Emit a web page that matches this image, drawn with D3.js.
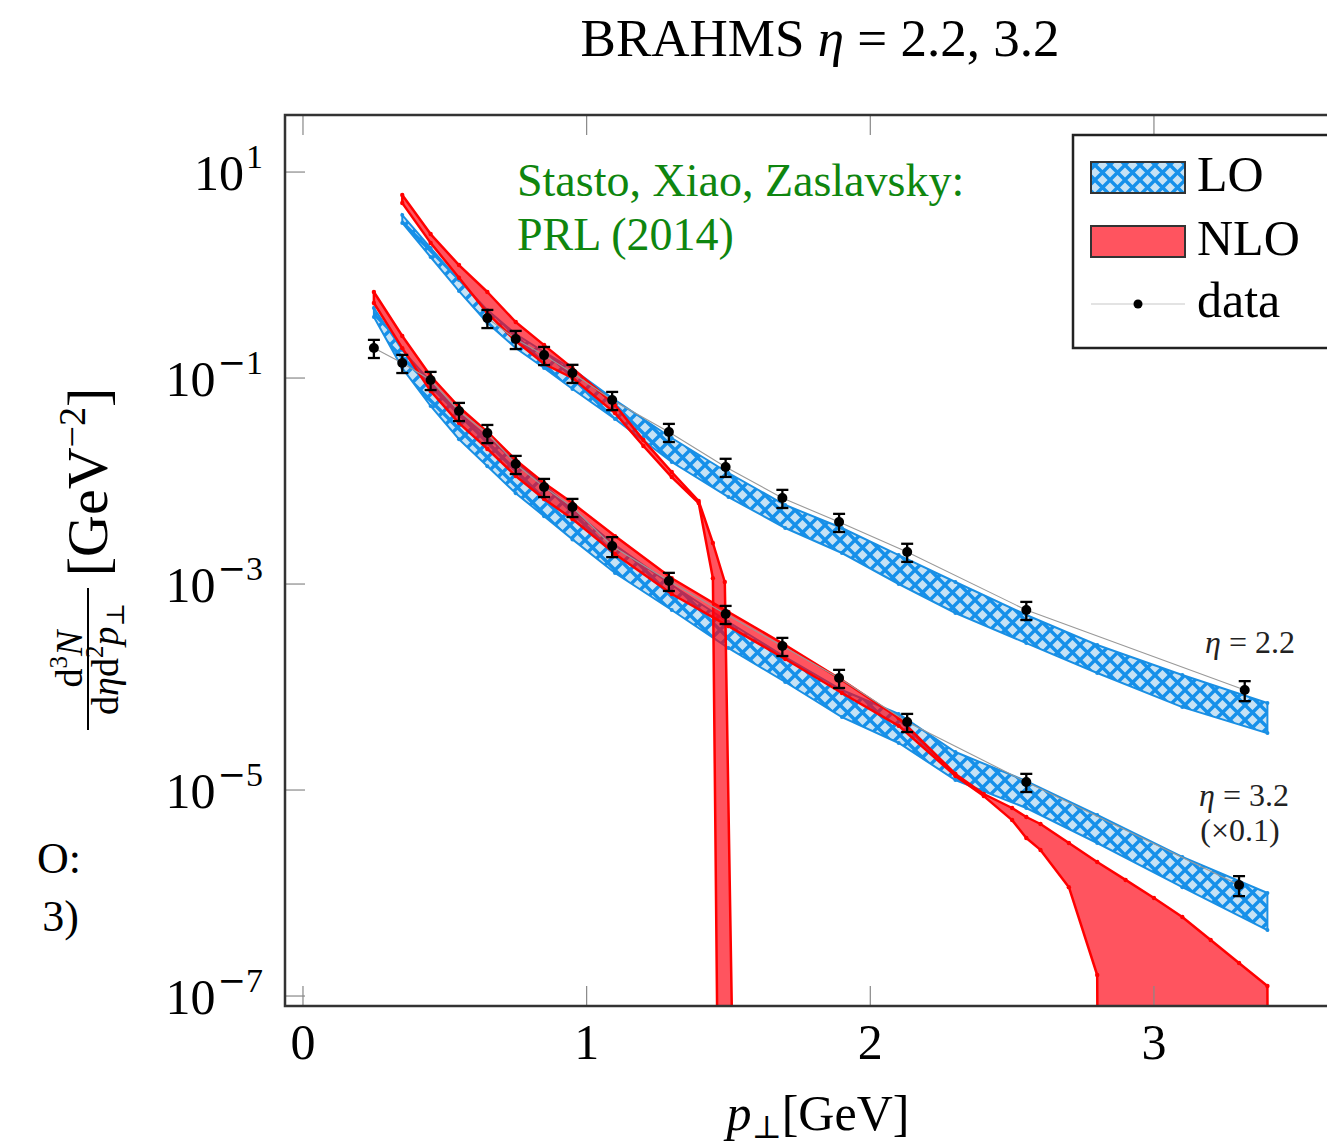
<!DOCTYPE html>
<html>
<head>
<meta charset="utf-8">
<script src="https://cdn.jsdelivr.net/npm/d3@7"></script>
<style>
body { margin: 0; background: #fff; }
text { font-family: "Liberation Serif", "DejaVu Serif", serif; }
</style>
</head>
<body>
<div id="chart"></div>
<script>
const W = 1327, H = 1145
const plot = {left: 285, right: 1344, top: 115, bottom: 1006}

// axis
const xMin = -0.0634, xMax = 3.67
const yMin = 8.0e-8, yMax = 35.8
const xTicks = [0, 1, 2, 3]
const yTickExp = [1, -1, -3, -5, -7]

// BRAHMS data, eta = 2.2
const xData22 = [0.65, 0.75, 0.85, 0.95, 1.09, 1.29, 1.49, 1.69, 1.89, 2.13, 2.55, 3.32]
const yData22 = [0.382, 0.239, 0.167, 0.112, 0.0611, 0.0299, 0.0137, 0.00684, 0.0040, 0.00205, 0.000559, 0.0000935]
const err22 = [0.2, 0.2, 0.2, 0.2, 0.2, 0.2, 0.2, 0.2, 0.2, 0.2, 0.2, 0.22]

// BRAHMS data, eta = 3.2 (x0.1)
const xData32 = [0.25, 0.35, 0.45, 0.55, 0.65, 0.75, 0.85, 0.95, 1.09, 1.29, 1.49, 1.69, 1.89, 2.13, 2.55, 3.30]
const yData32 = [0.1956, 0.1398, 0.0956, 0.0478, 0.0292, 0.01462, 0.00874, 0.00559, 0.00234, 0.00107, 0.000511, 0.000250, 0.0001223, 0.0000457, 0.00001196, 0.000001196]
const err32 = [0.2, 0.2, 0.2, 0.2, 0.2, 0.2, 0.2, 0.2, 0.22, 0.2, 0.2, 0.2, 0.2, 0.2, 0.2, 0.22]

// LO band, eta = 2.2
const xLO22 = [0.35, 0.45, 0.55, 0.65, 0.75, 0.85, 0.95, 1.1, 1.3, 1.5, 1.7, 1.9, 2.1, 2.3, 2.55, 2.8, 3.1, 3.4]
const loHi22 = [3.82, 1.83, 0.894, 0.457, 0.2675, 0.1788, 0.1223, 0.0611, 0.0262, 0.01196, 0.00585, 0.00350, 0.00191, 0.001046, 0.000500, 0.000256, 0.0001308, 0.0000699]
const loLo22 = [3.20, 1.496, 0.699, 0.342, 0.1956, 0.1251, 0.0782, 0.0400, 0.01530, 0.00699, 0.00350, 0.00200, 0.00100, 0.000523, 0.000267, 0.0001367, 0.0000639, 0.0000357]

// LO band, eta = 3.2
const xLO32 = [0.25, 0.35, 0.45, 0.55, 0.65, 0.75, 0.85, 0.95, 1.1, 1.3, 1.5, 1.7, 1.9, 2.1, 2.3, 2.55, 2.8, 3.1, 3.4]
const loHi32 = [0.478, 0.187, 0.0915, 0.0457, 0.0267, 0.0153, 0.00915, 0.00523, 0.00239, 0.000978, 0.000428, 0.0001956, 0.0000935, 0.0000547, 0.0000234, 0.0000122, 5.72e-6, 2.24e-6, 1.0e-6]
const loLo32 = [0.391, 0.1250, 0.0535, 0.0255, 0.0139, 0.00762, 0.00456, 0.00271, 0.00128, 0.000560, 0.000239, 0.0001118, 0.0000511, 0.0000286, 0.0000125, 6.69e-6, 3.06e-6, 1.14e-6, 4.37e-7]

// NLO band, eta = 2.2 (upper and lower edges)
const xNloHi22 = [0.35, 0.45, 0.55, 0.65, 0.75, 0.85, 0.95, 1.1, 1.2, 1.3, 1.395, 1.445, 1.487, 1.517]
const nloHi22 = [5.98, 2.50, 1.25, 0.684, 0.350, 0.209, 0.1250, 0.0547, 0.0250, 0.01224, 0.00639, 0.00250, 0.001046, 1e-8]
const xNloLo22 = [0.35, 0.45, 0.55, 0.65, 0.75, 0.85, 0.95, 1.1, 1.2, 1.3, 1.395, 1.445, 1.463]
const nloLo22 = [5.00, 2.05, 0.940, 0.427, 0.229, 0.1375, 0.100, 0.0457, 0.0219, 0.01093, 0.00611, 0.00114, 1e-8]

// NLO band, eta = 3.2
const xNloHi32 = [0.25, 0.35, 0.45, 0.55, 0.65, 0.75, 0.85, 0.95, 1.1, 1.3, 1.5, 1.7, 1.9, 2.1, 2.3, 2.4, 2.5, 2.55, 2.6, 2.7, 2.8, 2.9, 3.0, 3.1, 3.2, 3.3, 3.4, 3.402]
const nloHi32 = [0.684, 0.256, 0.1046, 0.0523, 0.0299, 0.0160, 0.00956, 0.00611, 0.00292, 0.00114, 0.000535, 0.000256, 0.0001169, 0.0000500, 0.0000143, 9.15e-6, 6.69e-6, 5.47e-6, 4.68e-6, 3.06e-6, 2.00e-6, 1.34e-6, 8.94e-7, 5.85e-7, 3.50e-7, 2.09e-7, 1.25e-7, 1e-8]
const xNloLo32 = [0.25, 0.35, 0.45, 0.55, 0.65, 0.75, 0.85, 0.95, 1.1, 1.3, 1.5, 1.7, 1.9, 2.1, 2.3, 2.4, 2.5, 2.55, 2.6, 2.7, 2.8, 2.802]
const nloLo32 = [0.535, 0.195, 0.0748, 0.0365, 0.0205, 0.0112, 0.00670, 0.00428, 0.00196, 0.000800, 0.000390, 0.000187, 0.0000875, 0.0000420, 0.0000137, 8.74e-6, 5.11e-6, 3.42e-6, 2.62e-6, 1.14e-6, 1.60e-7, 1e-8]

const blue = "#1a8fe3", red = "#ff0000", green = "#0f860f"

const xScale = d3.scaleLinear().domain([xMin, xMax]).range([plot.left, plot.right])
const yScale = d3.scaleLog().domain([yMin, yMax]).range([plot.bottom, plot.top])

const svg = d3.select("#chart").append("svg")
    .attr("xmlns", "http://www.w3.org/2000/svg")
    .attr("width", W)
    .attr("height", H)

const defs = svg.append("defs")
defs.append("clipPath").attr("id", "plotClip")
    .append("rect")
    .attr("x", plot.left).attr("y", plot.top)
    .attr("width", plot.right - plot.left).attr("height", plot.bottom - plot.top)

const pat = defs.append("pattern").attr("id", "crosshatch")
    .attr("patternUnits", "userSpaceOnUse")
    .attr("width", 15).attr("height", 15)
pat.append("rect").attr("width", 15).attr("height", 15).attr("fill", "#c6e2f5")
pat.append("path").attr("d", "M0,0L15,15M15,0L0,15")
    .attr("stroke", "#1590ea").attr("stroke-width", 3.4).attr("stroke-linecap", "square")

// title
svg.append("text")
    .attr("x", 820).attr("y", 56)
    .attr("text-anchor", "middle")
    .attr("font-size", 53)
    .call(t => {
        t.append("tspan").text("BRAHMS ")
        t.append("tspan").attr("font-style", "italic").text("η")
        t.append("tspan").text(" = 2.2, 3.2")
    })

const g = svg.append("g").attr("clip-path", "url(#plotClip)")

function bandPath(hx, hv, lx, lv) {
    const top = hx.map((x, i) => [xScale(x), yScale(hv[i])])
    const bot = lx.map((x, i) => [xScale(x), yScale(lv[i])]).reverse()
    return "M" + top.concat(bot).map(p => p[0].toFixed(1) + "," + p[1].toFixed(1)).join("L") + "Z"
}

function drawVertices(xs, vs, color, r) {
    g.append("g").selectAll("circle")
        .data(xs.map((x, i) => [x, vs[i]]).filter(d => d[1] > yMin))
        .enter().append("circle")
        .attr("cx", d => xScale(d[0]))
        .attr("cy", d => yScale(d[1]))
        .attr("r", r)
        .attr("fill", color)
}

// LO bands
g.append("path").attr("d", bandPath(xLO22, loHi22, xLO22, loLo22))
    .attr("fill", "url(#crosshatch)").attr("stroke", blue).attr("stroke-width", 2)
g.append("path").attr("d", bandPath(xLO32, loHi32, xLO32, loLo32))
    .attr("fill", "url(#crosshatch)").attr("stroke", blue).attr("stroke-width", 2)
drawVertices(xLO22, loHi22, blue, 2)
drawVertices(xLO22, loLo22, blue, 2)
drawVertices(xLO32, loHi32, blue, 2)
drawVertices(xLO32, loLo32, blue, 2)

// NLO bands
g.append("path").attr("d", bandPath(xNloHi22, nloHi22, xNloLo22, nloLo22))
    .attr("fill", "#ff0010").attr("fill-opacity", 0.67)
    .attr("stroke", red).attr("stroke-width", 2.5).attr("stroke-linejoin", "round")
g.append("path").attr("d", bandPath(xNloHi32, nloHi32, xNloLo32, nloLo32))
    .attr("fill", "#ff0010").attr("fill-opacity", 0.67)
    .attr("stroke", red).attr("stroke-width", 2.5).attr("stroke-linejoin", "round")
drawVertices(xNloHi22, nloHi22, red, 2.2)
drawVertices(xNloLo22, nloLo22, red, 2.2)
drawVertices(xNloHi32, nloHi32, red, 2.2)
drawVertices(xNloLo32, nloLo32, red, 2.2)

// ticks
const tickLen = 20
const ticks = svg.append("g").attr("stroke", "#888").attr("stroke-width", 1.2)
xTicks.forEach(t => {
    ticks.append("line").attr("x1", xScale(t)).attr("x2", xScale(t))
        .attr("y1", plot.bottom).attr("y2", plot.bottom - tickLen)
    ticks.append("line").attr("x1", xScale(t)).attr("x2", xScale(t))
        .attr("y1", plot.top).attr("y2", plot.top + tickLen)
})
yTickExp.forEach(e => {
    ticks.append("line").attr("x1", plot.left).attr("x2", plot.left + tickLen)
        .attr("y1", yScale(Math.pow(10, e))).attr("y2", yScale(Math.pow(10, e)))
})

// data
function drawData(xs, vs, errs) {
    const pts = xs.map((x, i) => ({x: x, v: vs[i], e: errs[i]}))
    g.append("path")
        .attr("d", d3.line().x(d => xScale(d.x)).y(d => yScale(d.v))(pts))
        .attr("fill", "none").attr("stroke", "#999").attr("stroke-width", 1.1)
    const eb = g.append("g").attr("stroke", "#000").attr("stroke-width", 2.3)
    pts.forEach(d => {
        const cx = xScale(d.x), y1 = yScale(d.v * (1 + d.e)), y2 = yScale(d.v * (1 - d.e))
        eb.append("line").attr("x1", cx).attr("x2", cx).attr("y1", y1).attr("y2", y2)
        eb.append("line").attr("x1", cx - 6).attr("x2", cx + 6).attr("y1", y1).attr("y2", y1)
        eb.append("line").attr("x1", cx - 6).attr("x2", cx + 6).attr("y1", y2).attr("y2", y2)
    })
    g.append("g").selectAll("circle").data(pts).enter().append("circle")
        .attr("cx", d => xScale(d.x)).attr("cy", d => yScale(d.v))
        .attr("r", 5).attr("fill", "#000")
}
drawData(xData22, yData22, err22)
drawData(xData32, yData32, err32)

// frame
svg.append("rect")
    .attr("x", plot.left).attr("y", plot.top)
    .attr("width", plot.right - plot.left).attr("height", plot.bottom - plot.top)
    .attr("fill", "none").attr("stroke", "#333").attr("stroke-width", 2.5)

// tick labels
xTicks.forEach(t => {
    svg.append("text").attr("x", xScale(t)).attr("y", 1059)
        .attr("text-anchor", "middle").attr("font-size", 50).text(t)
})
yTickExp.forEach(e => {
    svg.append("text").attr("x", 263).attr("y", yScale(Math.pow(10, e)) + 18)
        .attr("text-anchor", "end").attr("font-size", 50)
        .call(t => {
            t.append("tspan").text("10")
            if (e < 0) {
                t.append("tspan").attr("font-size", 34).attr("dx", 2).attr("dy", -22)
                    .attr("font-family", "DejaVu Serif").attr("font-weight", 300).text("\u2212")
                t.append("tspan").attr("font-size", 34).text(-e)
            } else {
                t.append("tspan").attr("font-size", 34).attr("dx", 2).attr("dy", -22).text(e)
            }
        })
})

// axis labels
svg.append("text").attr("x", 818).attr("y", 1130)
    .attr("text-anchor", "middle").attr("font-size", 50)
    .call(t => {
        t.append("tspan").attr("font-style", "italic").text("p")
        t.append("tspan").attr("font-size", 32).attr("dy", 8).text("⊥")
        t.append("tspan").attr("dy", -8).text("[GeV]")
    })

const yl = svg.append("g").attr("transform", "rotate(-90)")
yl.append("text").attr("x", -482).attr("y", 107)
    .attr("text-anchor", "middle").attr("font-size", 58)
    .call(t => {
        t.append("tspan").text("[GeV")
        t.append("tspan").attr("font-size", 38).attr("dy", -22).text("\u22122")
        t.append("tspan").attr("dy", 22).text("]")
    })
yl.append("line").attr("x1", -588).attr("x2", -730).attr("y1", 88).attr("y2", 88)
    .attr("stroke", "#000").attr("stroke-width", 2)
yl.append("text").attr("x", -659).attr("y", 82)
    .attr("text-anchor", "middle").attr("font-size", 38)
    .call(t => {
        t.append("tspan").text("d")
        t.append("tspan").attr("font-size", 25).attr("dy", -15).text("3")
        t.append("tspan").attr("dy", 15).attr("font-style", "italic").text("N")
    })
yl.append("text").attr("x", -659).attr("y", 118)
    .attr("text-anchor", "middle").attr("font-size", 38)
    .call(t => {
        t.append("tspan").text("d")
        t.append("tspan").attr("font-style", "italic").text("η")
        t.append("tspan").text("d")
        t.append("tspan").attr("font-size", 25).attr("dy", -15).text("2")
        t.append("tspan").attr("dy", 15).attr("font-style", "italic").text("p")
        t.append("tspan").attr("font-size", 25).attr("dy", 6).text("⊥")
    })

// green reference note
svg.append("text").attr("x", 517).attr("y", 196)
    .attr("font-size", 46).attr("fill", green).text("Stasto, Xiao, Zaslavsky:")
svg.append("text").attr("x", 517).attr("y", 250)
    .attr("font-size", 46).attr("fill", green).text("PRL (2014)")

// curve labels
svg.append("text").attr("x", 1295).attr("y", 653)
    .attr("text-anchor", "end").attr("font-size", 32).attr("fill", "#222")
    .call(t => {
        t.append("tspan").attr("font-style", "italic").text("η")
        t.append("tspan").text(" = 2.2")
    })
svg.append("text").attr("x", 1289).attr("y", 806)
    .attr("text-anchor", "end").attr("font-size", 32).attr("fill", "#222")
    .call(t => {
        t.append("tspan").attr("font-style", "italic").text("η")
        t.append("tspan").text(" = 3.2")
    })
svg.append("text").attr("x", 1240).attr("y", 841)
    .attr("text-anchor", "middle").attr("font-size", 32).attr("fill", "#222")
    .text("(×0.1)")

// legend
const lg = svg.append("g")
lg.append("rect").attr("x", 1073).attr("y", 135).attr("width", 320).attr("height", 213)
    .attr("fill", "#fff").attr("stroke", "#222").attr("stroke-width", 2.5)
lg.append("rect").attr("x", 1091).attr("y", 162).attr("width", 94).attr("height", 31)
    .attr("fill", "url(#crosshatch)").attr("stroke", "#333").attr("stroke-width", 2)
lg.append("rect").attr("x", 1091).attr("y", 226).attr("width", 94).attr("height", 31)
    .attr("fill", "#ff0010").attr("fill-opacity", 0.67).attr("stroke", "#333").attr("stroke-width", 2)
lg.append("line").attr("x1", 1091).attr("x2", 1185).attr("y1", 304).attr("y2", 304)
    .attr("stroke", "#c8c8c8").attr("stroke-width", 1.2)
lg.append("circle").attr("cx", 1138).attr("cy", 304).attr("r", 4.5).attr("fill", "#000")
const legendText = ["LO", "NLO", "data"]
const legendBase = [191, 255, 317]
legendText.forEach((s, i) => {
    lg.append("text").attr("x", 1197).attr("y", legendBase[i]).attr("font-size", 50).text(s)
})

// visible part of the neighbouring panel's note
svg.append("text").attr("x", 81).attr("y", 873).attr("text-anchor", "end")
    .attr("font-size", 44).text("O:")
svg.append("text").attr("x", 79).attr("y", 931).attr("text-anchor", "end")
    .attr("font-size", 44).text("3)")
</script>
</body>
</html>
